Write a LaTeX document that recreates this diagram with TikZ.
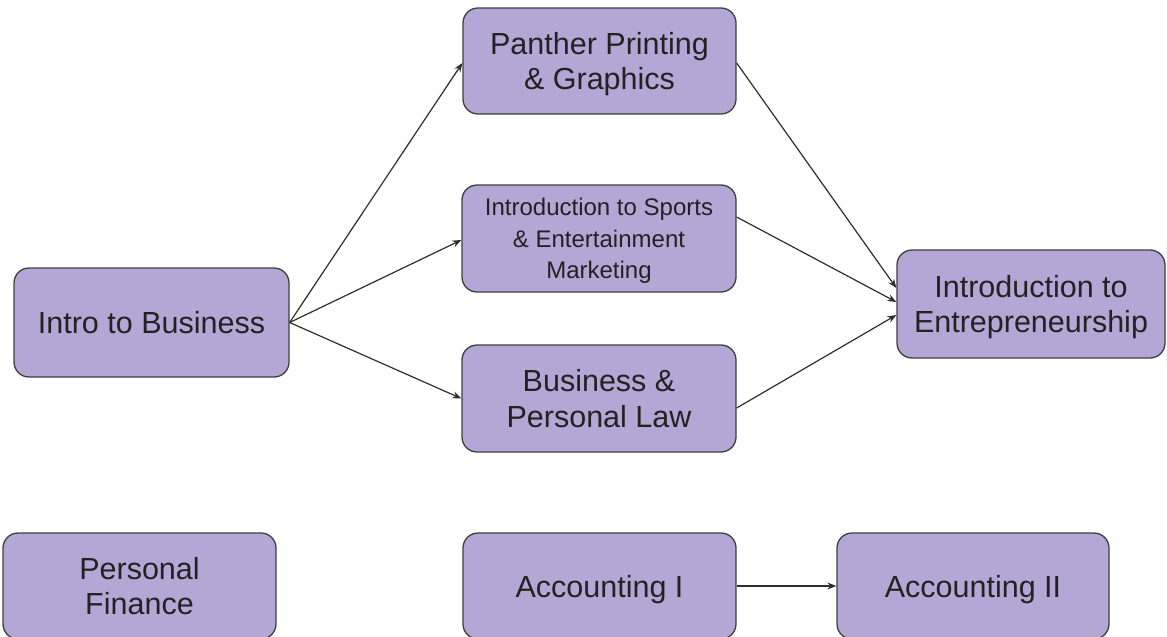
\documentclass[tikz,border=0pt]{standalone}
\usepackage{fontspec}
\setmainfont{Liberation Sans}
\usetikzlibrary{calc,arrows.meta}
\definecolor{boxfill}{HTML}{B4A7D6}
\definecolor{boxline}{HTML}{3F3F3F}
\definecolor{txt}{HTML}{222222}
\definecolor{conn}{HTML}{2E2E2E}
\tikzset{
  course/.style={draw=boxline, line width=1.3pt, fill=boxfill, rounded corners=15pt,
    align=center, text=txt, inner sep=0pt, text depth=0pt,
    font=\fontsize{30.5}{35.5}\selectfont},
  smalltext/.style={font=\fontsize{24}{31.7}\selectfont},
  link/.style={draw=conn, line width=1.2pt, -{Stealth[length=9pt,width=7pt]}}
}
\begin{document}
\begin{tikzpicture}[x=1pt,y=-1pt]
\useasboundingbox (0,0) rectangle (1167,637);
\node[course, minimum width=275pt, minimum height=109pt] (biz) at (151.5,322.5) {Intro to Business};
\node[course, minimum width=273pt, minimum height=106pt] (panther) at (599.5,61) {Panther Printing\\\& Graphics};
\node[course, smalltext, minimum width=274pt, minimum height=107pt] (sports) at (599,238.5) {Introduction to Sports\\\& Entertainment\\Marketing};
\node[course, minimum width=274pt, minimum height=107pt] (law) at (599,398.5) {Business \&\\Personal Law};
\node[course, minimum width=268pt, minimum height=108pt] (entre) at (1031,304) {Introduction to\\Entrepreneurship};
\node[course, minimum width=273pt, minimum height=106pt] (pf) at (139.5,586) {Personal\\Finance};
\node[course, minimum width=273pt, minimum height=106pt] (acc1) at (599.5,586) {Accounting I};
\node[course, minimum width=272pt, minimum height=106pt] (acc2) at (973,586) {Accounting II};
\draw[link] (biz.east) -- ($(panther.west)+(0,2)$);
\draw[link] (biz.east) -- ($(sports.west)+(0,1.5)$);
\draw[link] (biz.east) -- (law.west);
\draw[link] ($(panther.east)+(0,2)$) -- ($(entre.west)+(0,-16)$);
\draw[link] ($(sports.east)+(0,-21.5)$) -- ($(entre.west)+(0,-2)$);
\draw[link] ($(law.east)+(0,9.5)$) -- ($(entre.west)+(0,11)$);
\draw[link] (acc1.east) -- (acc2.west);
\end{tikzpicture}
\end{document}
